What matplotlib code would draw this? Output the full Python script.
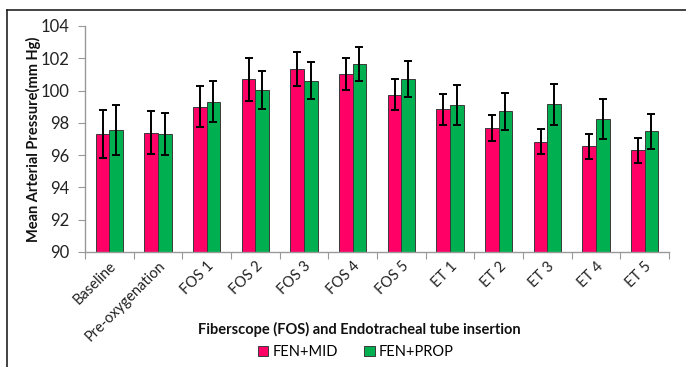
import numpy as np
import matplotlib
matplotlib.use('Agg')
import matplotlib.pyplot as plt
from matplotlib.lines import Line2D
from matplotlib.patches import Patch

plt.rcParams['font.family'] = ['Lato', 'DejaVu Sans']

labels = ['Baseline', 'Pre-oxygenation', 'FOS 1', 'FOS 2', 'FOS 3', 'FOS 4', 'FOS 5',
          'ET 1', 'ET 2', 'ET 3', 'ET 4', 'ET 5']
mid = [97.3, 97.4, 99.0, 100.7, 101.35, 101.0, 99.75, 98.83, 97.67, 96.83, 96.54, 96.3]
mid_err = [1.5, 1.32, 1.27, 1.34, 1.06, 0.99, 0.95, 0.96, 0.79, 0.78, 0.79, 0.79]
prop = [97.55, 97.3, 99.32, 100.03, 100.62, 101.65, 100.72, 99.11, 98.72, 99.15, 98.23, 97.47]
prop_err = [1.55, 1.3, 1.27, 1.18, 1.14, 1.08, 1.12, 1.22, 1.15, 1.27, 1.22, 1.08]

pink = '#ff0066'
green = '#00b050'

fig = plt.figure(figsize=(6.86, 3.67), dpi=100)
ax = fig.add_axes([85/686, 1-252/367, (669-85)/686, (252-26)/367])

x = np.arange(len(labels))
w = 0.28
ekw = dict(ecolor='black', elinewidth=1.4, capsize=3, capthick=1.4)
ax.bar(x - w/2, np.array(mid) - 90, w, bottom=90, color=pink, edgecolor='#3a3a3a',
       linewidth=0.7, yerr=mid_err, error_kw=ekw, zorder=2)
ax.bar(x + w/2, np.array(prop) - 90, w, bottom=90, color=green, edgecolor='#3a3a3a',
       linewidth=0.7, yerr=prop_err, error_kw=ekw, zorder=2)

ax.set_xlim(-0.5, len(labels) - 0.5)
ax.set_ylim(90, 104)
ax.set_yticks(np.arange(90, 105, 2))
ax.tick_params(axis='y', direction='out', length=5, color='#999999', labelsize=12,
               labelcolor='#222222', pad=6)

ax.set_xticks(np.arange(-0.5, len(labels), 1))
ax.set_xticklabels([])
ax.tick_params(axis='x', which='major', direction='out', length=5, color='#999999')
ax.set_xticks(x, minor=True)
ax.set_xticklabels(labels, minor=True, rotation=45, ha='right', va='top',
                   rotation_mode='anchor', fontsize=10.5, color='#222222')
ax.tick_params(axis='x', which='minor', length=0, pad=5)

for s in ['top', 'right']:
    ax.spines[s].set_visible(False)
for s in ['left', 'bottom']:
    ax.spines[s].set_color('#999999')
    ax.spines[s].set_linewidth(1.0)

fig.text(33/686, 1-139/367, 'Mean Arterial Pressure(mm Hg)', rotation=90,
         ha='center', va='center', fontsize=10.5, fontweight='bold', color='#111111')
fig.text(359/686, 1-329/367, 'Fiberscope (FOS) and Endotracheal tube insertion',
         ha='center', va='center', fontsize=10.5, fontweight='bold', color='#111111')

handles = [Patch(facecolor=pink, edgecolor='#3a3a3a', linewidth=0.7),
           Patch(facecolor=green, edgecolor='#3a3a3a', linewidth=0.7)]
fig.legend(handles, ['FEN+MID', 'FEN+PROP'], loc='center', bbox_to_anchor=(356/686, 1-352/367),
           ncol=2, frameon=False, fontsize=10.5, handlelength=0.7, handleheight=0.7,
           handletextpad=0.3, columnspacing=1.8)

# outer frame (top and left edges)
fig.add_artist(Line2D([7/686, 1], [1-10/367, 1-10/367], color='#222222', lw=1.2,
                      transform=fig.transFigure))
fig.add_artist(Line2D([7/686, 7/686], [0, 1-10/367], color='#222222', lw=1.2,
                      transform=fig.transFigure))

fig.savefig('out.png', dpi=100)
